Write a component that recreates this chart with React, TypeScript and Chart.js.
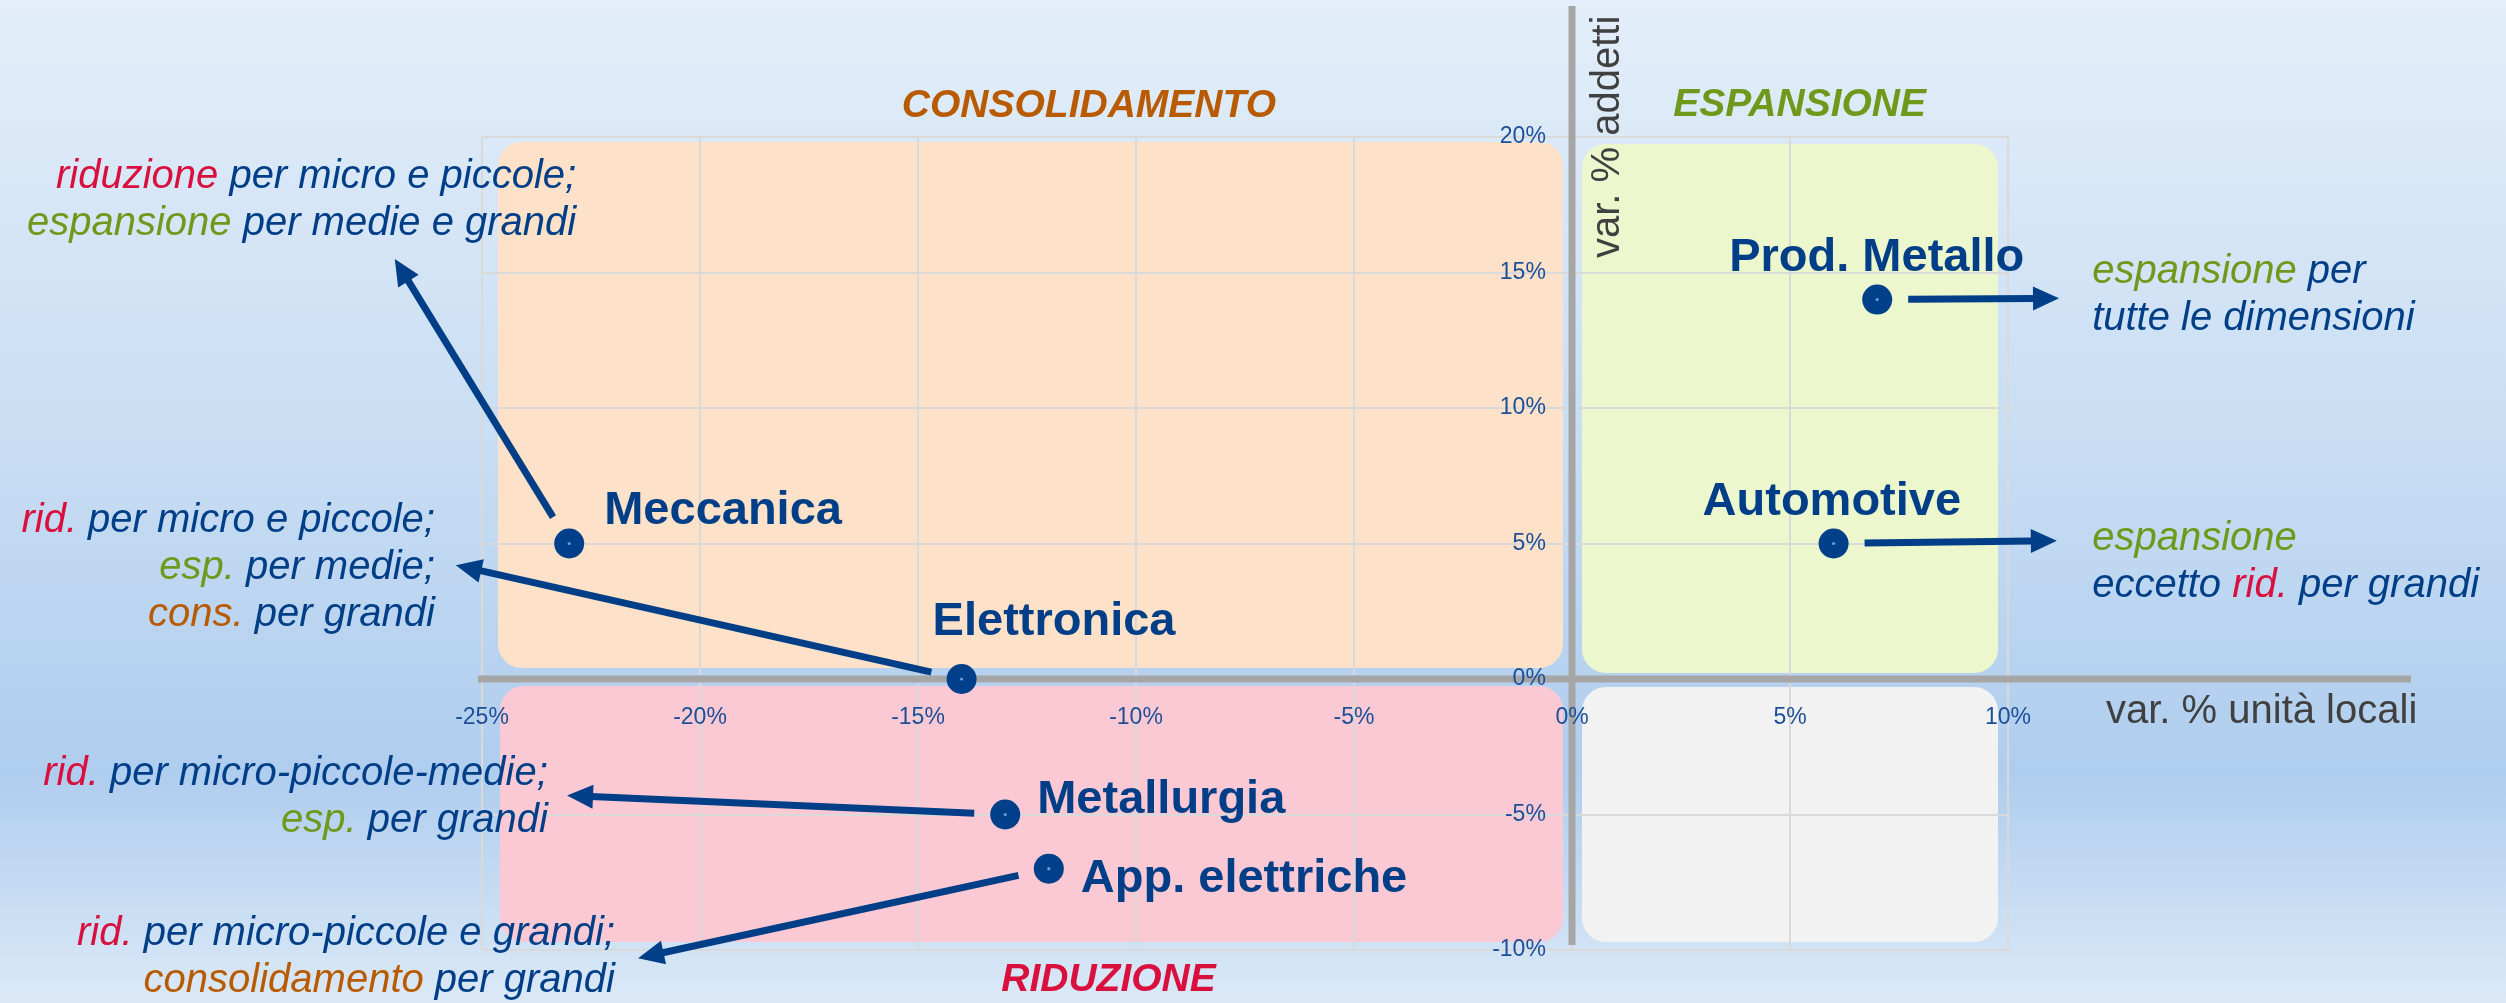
import React, { useEffect, useRef } from 'react';
import { Chart, registerables } from 'chart.js';

Chart.register(...registerables);

// ---------- DATA ----------
const sectors = ['Meccanica', 'Elettronica', 'Metallurgia', 'App. elettriche', 'Prod. Metallo', 'Automotive'];
const varUnitaLocali = [-23, -14, -13, -12, 7, 6];
const varAddetti = [5, 0, -5, -7, 14, 5];
// arrow tips (data units), one per sector
const arrowTipX = [-27.0, -25.6, -23.05, -21.42, 11.17, 11.12];
const arrowTipY = [15.5, 4.2, -4.3, -10.3, 14.05, 5.1];
const xMin = -25;
const xMax = 10;
const yMin = -10;
const yMax = 20;
const tickStep = 5;
const quadrantTitles = ['CONSOLIDAMENTO', 'ESPANSIONE', 'RIDUZIONE'];
const xAxisTitle = 'var. % unità locali';
const yAxisTitle = 'var. % addetti';
// annotation text per sector: lines of [text, colourKey] segments
const noteLines: [string, string][][][] = [
  [[['riduzione', 'red'], [' per micro e piccole;', 'blue']], [['espansione', 'green'], [' per medie e grandi', 'blue']]],
  [[['rid.', 'red'], [' per micro e piccole;', 'blue']], [['esp.', 'green'], [' per medie;', 'blue']], [['cons.', 'orange'], [' per grandi', 'blue']]],
  [[['rid.', 'red'], [' per micro-piccole-medie;', 'blue']], [['esp.', 'green'], [' per grandi', 'blue']]],
  [[['rid.', 'red'], [' per micro-piccole e grandi;', 'blue']], [['consolidamento', 'orange'], [' per grandi', 'blue']]],
  [[['espansione', 'green'], [' per', 'blue']], [['tutte le dimensioni', 'blue']]],
  [[['espansione', 'green']], [['eccetto ', 'blue'], ['rid.', 'red'], [' per grandi', 'blue']]],
];

// ---------- LAYOUT / STYLE ----------
const FONT = "'Liberation Sans', Arial, Helvetica, sans-serif";
const COLORS: Record<string, string> = {
  blue: '#003f87',
  red: '#d90f3e',
  green: '#6e991b',
  orange: '#b85a00',
  gray: '#404040',
};
const noteAnchorX = [-22.84, -26.08, -23.49, -21.95, 11.93, 11.93];
const noteAnchorY = [18.12, 5.42, -3.91, -9.82, 14.61, 4.76];
const noteAlign = ['right', 'right', 'right', 'right', 'left', 'left'];
const labelOffsetX = [35, -29, 32, 32, -148, -131];
const labelOffsetY = [-20, -44, -2, 23, -29, -29];
const titleX = [-11.08, 5.22, -10.63];
const titleY = [20.74, 20.77, -11.5];
const titleColor = ['#b85a00', '#6e991b', '#d90f3e'];
const yTickGapValue = -0.6; // y tick labels sit slightly left of the x=0 axis
const quadrants = [
  { x0: -25, x1: 0, y0: 0, y1: 20, color: '#fde1c8', inset: [16, 9, 5, 11] },
  { x0: 0, x1: 10, y0: 0, y1: 20, color: '#ecf7ce', inset: [10, 10, 7, 6] },
  { x0: -25, x1: 0, y0: -10, y1: 0, color: '#fbc9d4', inset: [18, 9, 7, 8] },
  { x0: 0, x1: 10, y0: -10, y1: 0, color: '#f2f2f2', inset: [10, 10, 8, 8] },
];

const overlayPlugin = {
  id: 'overlay',
  beforeDraw(chart: any) {
    const { ctx, width, height } = chart;
    const x = chart.scales.x;
    const y = chart.scales.y;
    ctx.save();
    const g = ctx.createLinearGradient(0, 0, 0, height);
    g.addColorStop(0, '#e3eef9');
    g.addColorStop(0.45, '#c8ddf3');
    g.addColorStop(0.77, '#afcdee');
    g.addColorStop(1, '#dbe9f7');
    ctx.fillStyle = g;
    ctx.fillRect(0, 0, width, height);
    quadrants.forEach((q) => {
      const l = x.getPixelForValue(q.x0) + q.inset[0];
      const r = x.getPixelForValue(q.x1) - q.inset[1];
      const t = y.getPixelForValue(q.y1) + q.inset[2];
      const b = y.getPixelForValue(q.y0) - q.inset[3];
      ctx.fillStyle = q.color;
      ctx.beginPath();
      ctx.roundRect(l, t, r - l, b - t, 24);
      ctx.fill();
    });
    ctx.restore();
  },
  beforeDatasetsDraw(chart: any) {
    const { ctx } = chart;
    const x = chart.scales.x;
    const y = chart.scales.y;
    const x0 = x.getPixelForValue(0);
    const y0 = y.getPixelForValue(0);
    ctx.save();
    // thick axis lines
    ctx.strokeStyle = '#a6a6a6';
    ctx.lineWidth = 7;
    ctx.beginPath();
    ctx.moveTo(x0, y.getPixelForValue(yMax) - 131);
    ctx.lineTo(x0, y.getPixelForValue(yMin) - 5);
    ctx.stroke();
    ctx.beginPath();
    ctx.moveTo(x.getPixelForValue(xMin) - 4, y0);
    ctx.lineTo(x.getPixelForValue(xMax) + 403, y0);
    ctx.stroke();
    // arrows
    ctx.strokeStyle = COLORS.blue;
    ctx.fillStyle = COLORS.blue;
    ctx.lineWidth = 7;
    const gap = 31;
    const headLen = 26;
    const headHalf = 12;
    for (let i = 0; i < sectors.length; i++) {
      const px = x.getPixelForValue(varUnitaLocali[i]);
      const py = y.getPixelForValue(varAddetti[i]);
      const tx = x.getPixelForValue(arrowTipX[i]);
      const ty = y.getPixelForValue(arrowTipY[i]);
      const dx = tx - px;
      const dy = ty - py;
      const len = Math.hypot(dx, dy);
      const ux = dx / len;
      const uy = dy / len;
      const sx = px + ux * gap;
      const sy = py + uy * gap;
      const bx = tx - ux * headLen;
      const by = ty - uy * headLen;
      ctx.beginPath();
      ctx.moveTo(sx, sy);
      ctx.lineTo(bx + ux * 2, by + uy * 2);
      ctx.stroke();
      ctx.beginPath();
      ctx.moveTo(tx, ty);
      ctx.lineTo(bx - uy * headHalf, by + ux * headHalf);
      ctx.lineTo(bx + uy * headHalf, by - ux * headHalf);
      ctx.closePath();
      ctx.fill();
    }
    ctx.restore();
  },
  afterDatasetsDraw(chart: any) {
    const { ctx } = chart;
    const x = chart.scales.x;
    const y = chart.scales.y;
    ctx.save();
    ctx.textBaseline = 'alphabetic';
    // point labels
    ctx.font = `bold 47px ${FONT}`;
    ctx.fillStyle = COLORS.blue;
    ctx.textAlign = 'left';
    for (let i = 0; i < sectors.length; i++) {
      const px = x.getPixelForValue(varUnitaLocali[i]);
      const py = y.getPixelForValue(varAddetti[i]);
      ctx.fillText(sectors[i], px + labelOffsetX[i], py + labelOffsetY[i]);
    }
    // notes
    ctx.font = `italic 40px ${FONT}`;
    ctx.textAlign = 'left';
    for (let i = 0; i < noteLines.length; i++) {
      const ax = x.getPixelForValue(noteAnchorX[i]);
      const ay = y.getPixelForValue(noteAnchorY[i]);
      noteLines[i].forEach((line, li) => {
        const total = line.reduce((s, seg) => s + ctx.measureText(seg[0]).width, 0);
        let cx = noteAlign[i] === 'right' ? ax - total : ax;
        const cy = ay + li * 47;
        line.forEach((seg) => {
          ctx.fillStyle = COLORS[seg[1]];
          ctx.fillText(seg[0], cx, cy);
          cx += ctx.measureText(seg[0]).width;
        });
      });
    }
    // quadrant titles
    ctx.font = `italic bold 39px ${FONT}`;
    ctx.textAlign = 'center';
    quadrantTitles.forEach((t, i) => {
      ctx.fillStyle = titleColor[i];
      ctx.fillText(t, x.getPixelForValue(titleX[i]), y.getPixelForValue(titleY[i]));
    });
    // axis titles
    ctx.font = `40px ${FONT}`;
    ctx.fillStyle = COLORS.gray;
    ctx.textAlign = 'left';
    ctx.fillText(xAxisTitle, x.getPixelForValue(xMax) + 98, y.getPixelForValue(0) + 44);
    ctx.translate(x.getPixelForValue(0) + 47, y.getPixelForValue(yMax) + 121);
    ctx.rotate(-Math.PI / 2);
    ctx.fillText(yAxisTitle, 0, 0);
    ctx.restore();
  },
};

export default function App() {
  const ref = useRef<HTMLCanvasElement | null>(null);
  useEffect(() => {
    if (!ref.current) return;
    const pts = varUnitaLocali.map((v, i) => ({ x: v, y: varAddetti[i] }));
    const tickFont = { family: FONT, size: 23 };
    const chart = new Chart(ref.current, {
      type: 'scatter',
      data: {
        datasets: [
          { data: pts, pointRadius: 1.6, pointBackgroundColor: '#6f9bd6', pointBorderWidth: 0 },
          { data: pts, pointRadius: 15, pointBackgroundColor: '#00408a', pointBorderWidth: 0 },
        ],
      },
      options: {
        responsive: false,
        animation: false,
        events: [],
        layout: { padding: { left: 482, right: 498, top: 137, bottom: 53 } },
        plugins: { legend: { display: false }, tooltip: { enabled: false } },
        scales: {
          x: {
            type: 'linear',
            min: xMin,
            max: xMax,
            position: { y: 0 },
            grid: { color: '#d9d9d9', lineWidth: 2, drawTicks: false, z: 0 },
            border: { display: false },
            ticks: {
              z: 1,
              stepSize: tickStep,
              color: '#1c4f98',
              font: tickFont,
              padding: 25,
              maxRotation: 0,
              autoSkip: false,
              callback: (v: any) => `${v}%`,
            },
          },
          y: {
            type: 'linear',
            min: yMin,
            max: yMax,
            position: { x: yTickGapValue },
            grid: { color: '#d9d9d9', lineWidth: 2, drawTicks: false, z: 0 },
            border: { display: false },
            ticks: {
              z: 1,
              stepSize: tickStep,
              color: '#1c4f98',
              font: tickFont,
              padding: 0,
              autoSkip: false,
              callback: (v: any) => `${v}%`,
            },
          },
        },
      },
      plugins: [overlayPlugin],
    });
    return () => chart.destroy();
  }, []);
  return (
    <div style={{ position: 'absolute', left: 0, top: 0, width: 2506, height: 1003 }}>
      <canvas ref={ref} width={2506} height={1003} style={{ width: 2506, height: 1003, display: 'block' }} />
    </div>
  );
}
